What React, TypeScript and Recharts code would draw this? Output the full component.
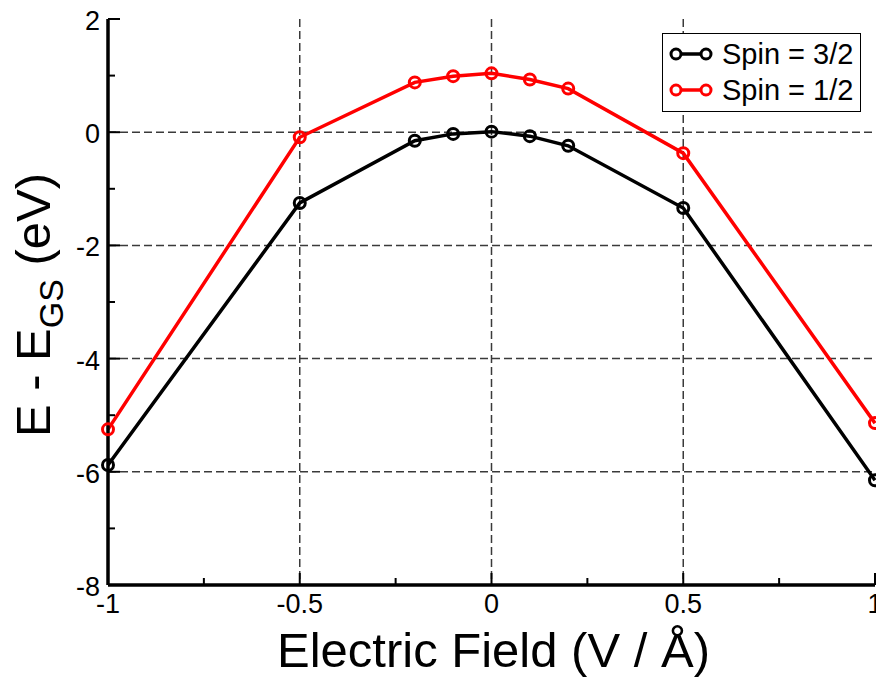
import { LineChart, Line, XAxis, YAxis, CartesianGrid, Legend, Label } from "recharts";

const FONT = "'Liberation Sans', Arial, Helvetica, sans-serif";

// electric field (V/Å) sampled for both spin states
const fieldValues = [-1, -0.5, -0.2, -0.1, 0, 0.1, 0.2, 0.5, 1];
const spin32Energy = [-5.88, -1.25, -0.15, -0.03, 0.01, -0.07, -0.24, -1.34, -6.15];
const spin12Energy = [-5.25, -0.09, 0.88, 0.99, 1.04, 0.93, 0.77, -0.37, -5.14];
const legendOrder = ["Spin = 3/2", "Spin = 1/2"];

const xTicks = [-1, -0.75, -0.5, -0.25, 0, 0.25, 0.5, 0.75, 1];
const xMajor = [-1, -0.5, 0, 0.5, 1];
const yTicks = [2, 1, 0, -1, -2, -3, -4, -5, -6, -7, -8];
const yMajor = [2, 0, -2, -4, -6, -8];
const xGrid = [-0.5, 0, 0.5];
const yGrid = [0, -2, -4, -6];

const data = fieldValues.map((f, i) => ({ field: f, s32: spin32Energy[i], s12: spin12Energy[i] }));

const MAJOR = 12;
const MINOR = 7;

// ticks point inward (xmgrace style); labels only on the major ones
// eslint-disable-next-line @typescript-eslint/no-explicit-any
const BottomTick = (p: any) => {
  const v = p.payload.value;
  const major = xMajor.includes(v);
  return (
    <g>
      <line x1={p.x} x2={p.x} y1={p.y} y2={p.y - (major ? MAJOR : MINOR)} stroke="#000" strokeWidth={2} />
      {major && (
        <text x={p.x} y={p.y + 28} textAnchor="middle" fontSize={27} fontFamily={FONT} fill="#000">
          {String(v)}
        </text>
      )}
    </g>
  );
};

// eslint-disable-next-line @typescript-eslint/no-explicit-any
const TopTick = (p: any) => {
  const major = xMajor.includes(p.payload.value);
  return <line x1={p.x} x2={p.x} y1={p.y} y2={p.y + (major ? MAJOR : MINOR)} stroke="#000" strokeWidth={2} />;
};

// eslint-disable-next-line @typescript-eslint/no-explicit-any
const LeftTick = (p: any) => {
  const v = p.payload.value;
  const major = yMajor.includes(v);
  return (
    <g>
      <line x1={p.x} x2={p.x + (major ? MAJOR : MINOR)} y1={p.y} y2={p.y} stroke="#000" strokeWidth={2} />
      {major && (
        <text x={p.x - 8} y={p.y + 11} textAnchor="end" fontSize={27} fontFamily={FONT} fill="#000">
          {String(v)}
        </text>
      )}
    </g>
  );
};

// eslint-disable-next-line @typescript-eslint/no-explicit-any
const RightTick = (p: any) => {
  const major = yMajor.includes(p.payload.value);
  return <line x1={p.x} x2={p.x - (major ? MAJOR : MINOR)} y1={p.y} y2={p.y} stroke="#000" strokeWidth={2} />;
};

// eslint-disable-next-line @typescript-eslint/no-explicit-any
const YTitle = (props: any) => {
  const vb = props.viewBox;
  const cx = vb.x + 50;
  const cy = vb.y + vb.height / 2 + 3;
  return (
    <text x={cx} y={cy} transform={`rotate(-90 ${cx} ${cy})`} textAnchor="middle" fontSize={49} fontFamily={FONT} fill="#000">
      E - E
      <tspan fontSize={34} dy={13}>GS</tspan>
      <tspan dy={-13}> (eV)</tspan>
    </text>
  );
};

// eslint-disable-next-line @typescript-eslint/no-explicit-any
const XTitle = (props: any) => {
  const vb = props.viewBox;
  return (
    <text x={vb.x + vb.width / 2 + 2} y={vb.y + 82} textAnchor="middle" fontSize={49} fontFamily={FONT} fill="#000">
      Electric Field (V / Å)
    </text>
  );
};

// eslint-disable-next-line @typescript-eslint/no-explicit-any
const LegendBox = (props: any) => {
  // eslint-disable-next-line @typescript-eslint/no-explicit-any
  const items = [...(props.payload || [])].sort((a: any, b: any) => legendOrder.indexOf(a.value) - legendOrder.indexOf(b.value));
  return (
    <div style={{ position: "relative", width: 199, height: 79, border: "1.5px solid #000", boxSizing: "border-box", background: "#fff", fontFamily: FONT }}>
      {/* eslint-disable-next-line @typescript-eslint/no-explicit-any */}
      {items.map((it: any, i: number) => (
        <div key={it.value} style={{ position: "absolute", left: 0, top: 2 + i * 36, height: 36, width: "100%" }}>
          <svg width={50} height={36} style={{ position: "absolute", left: 5, top: 0 }}>
            <line x1={8} x2={38} y1={18} y2={18} stroke={it.color} strokeWidth={3.5} />
            <circle cx={8} cy={18} r={5} fill="#fff" stroke={it.color} strokeWidth={3} />
            <circle cx={38} cy={18} r={5} fill="#fff" stroke={it.color} strokeWidth={3} />
          </svg>
          <span style={{ position: "absolute", left: 59, top: 0, lineHeight: "36px", fontSize: 29, color: "#000", whiteSpace: "nowrap" }}>
            {it.value}
          </span>
        </div>
      ))}
    </div>
  );
};

export default function App() {
  return (
    <div style={{ position: "absolute", left: 0, top: 0, width: 876, height: 678, background: "#fff" }}>
      <LineChart width={876} height={678} data={data} margin={{ top: 19, right: 1, bottom: 0, left: 0 }}>
        <CartesianGrid
          horizontal
          vertical
          horizontalValues={yGrid}
          verticalValues={xGrid}
          stroke="#3a3a3a"
          strokeWidth={1.5}
          strokeDasharray="8 4"
        />
        <XAxis
          dataKey="field"
          type="number"
          domain={[-1, 1]}
          ticks={xTicks}
          interval={0}
          height={93}
          tickSize={0}
          tickMargin={0}
          tickLine={false}
          axisLine={{ stroke: "#000", strokeWidth: 3.5 }}
          tick={BottomTick}
        >
          <Label content={XTitle} />
        </XAxis>
        <XAxis
          xAxisId="top"
          orientation="top"
          dataKey="field"
          type="number"
          domain={[-1, 1]}
          ticks={xTicks}
          interval={0}
          height={0}
          tickSize={0}
          tickMargin={0}
          tickLine={false}
          axisLine={{ stroke: "#000", strokeWidth: 3.5 }}
          tick={TopTick}
        />
        <YAxis
          type="number"
          domain={[-8, 2]}
          ticks={yTicks}
          interval={0}
          width={108}
          tickSize={0}
          tickMargin={0}
          tickLine={false}
          axisLine={{ stroke: "#000", strokeWidth: 3.5 }}
          tick={LeftTick}
        >
          <Label content={YTitle} />
        </YAxis>
        <YAxis
          yAxisId="right"
          orientation="right"
          type="number"
          domain={[-8, 2]}
          ticks={yTicks}
          interval={0}
          width={0}
          tickSize={0}
          tickMargin={0}
          tickLine={false}
          axisLine={{ stroke: "#000", strokeWidth: 3.5 }}
          tick={RightTick}
        />
        <Legend
          layout="vertical"
          align="center"
          verticalAlign="middle"
          content={LegendBox}
          wrapperStyle={{ left: 662, top: 33, width: 199, height: 79 }}
        />
        <Line
          type="linear"
          dataKey="s32"
          name="Spin = 3/2"
          stroke="#000"
          strokeWidth={3.5}
          dot={{ r: 5.5, stroke: "#000", strokeWidth: 3, fill: "none" }}
          isAnimationActive={false}
        />
        <Line
          type="linear"
          dataKey="s12"
          name="Spin = 1/2"
          stroke="#ff0000"
          strokeWidth={3.5}
          dot={{ r: 5.5, stroke: "#ff0000", strokeWidth: 3, fill: "none" }}
          isAnimationActive={false}
        />
      </LineChart>
    </div>
  );
}
